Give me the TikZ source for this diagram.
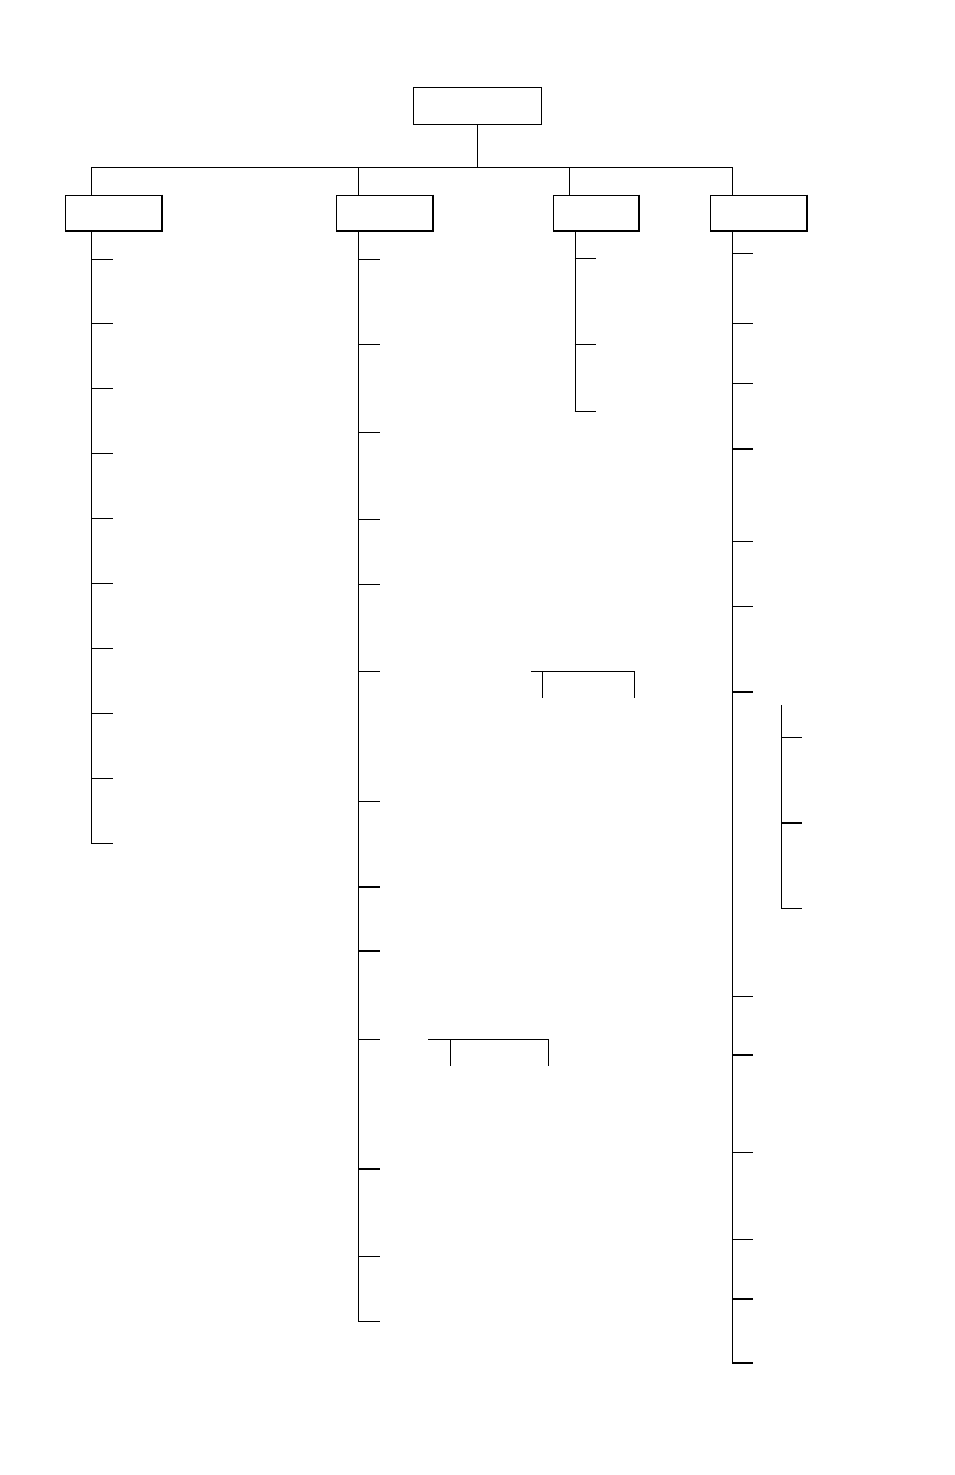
\documentclass[tikz,border=0pt]{standalone}
\begin{document}
\begin{tikzpicture}[x=1pt,y=-1pt,line width=1pt,
  box/.style={draw,rectangle,inner sep=0pt,line width=1pt},
  thk/.style={line width=2pt},
  shade/.style={line width=1.6pt}]
\useasboundingbox (0,0) rectangle (954,1475);
% boxes
\node[box,minimum width=128pt,minimum height=37pt] (root) at (477,105.5) {};
\node[box,minimum width=96pt,minimum height=35pt] (b1) at (113,212.5) {};
\node[box,minimum width=96pt,minimum height=35pt] (b2) at (384,212.5) {};
\node[box,minimum width=85pt,minimum height=35pt] (b3) at (595.5,212.5) {};
\node[box,minimum width=96pt,minimum height=35pt] (b4) at (758,212.5) {};
\foreach \n in {b1,b2,b3,b4}
  \draw[shade] ([xshift=0.3pt]\n.north east) -- ([xshift=0.3pt,yshift=-0.3pt]\n.south east) -- ([yshift=-0.3pt]\n.south west);
% top connectors
\coordinate (barL) at (91,167);
\coordinate (barR) at (732,167);
\coordinate (c2) at (358,167);
\coordinate (c3) at (569,167);
\draw (root.south) -- (root.south |- barL);
\draw (barL) -- (barR);
\draw (barL) -- (barL |- b1.north);
\draw (c2) -- (c2 |- b2.north);
\draw (c3) -- (c3 |- b3.north);
\draw (barR) -- (barR |- b4.north);
% column 1
\coordinate (e1) at (91,843);
\draw (barL |- b1.south) -- (e1);
\foreach \y in {259,323,388,453,518,583,648,713,778,843}
  \draw (91,\y) -- (113,\y);
% column 2
\coordinate (e2) at (358,1321);
\draw (c2 |- b2.south) -- (e2);
\foreach \y in {259,344,432,519,584,671,801,1039,1256,1321}
  \draw (358,\y) -- (380,\y);
\foreach \y in {887,951,1169}
  \draw[thk] (358,\y) -- (380,\y);
% bracket 1
\coordinate (k1a) at (531,671.5);
\coordinate (k1b) at (634.5,671.5);
\draw (k1a) -- (k1b) -- ++(0,26);
\draw (542,671.5) -- (542,697.5);
% bracket 2
\coordinate (k2a) at (428,1039.5);
\coordinate (k2b) at (548.5,1039.5);
\draw (k2a) -- (k2b) -- ++(0,26.5);
\draw (450,1039.5) -- (450,1066);
% column 3
\coordinate (s3) at (575,231);
\draw (s3 |- b3.south) -- (575,411);
\foreach \y in {258,344,411}
  \draw (574.5,\y) -- (596,\y);
% column 4
\draw (barR |- b4.south) -- (732,1363);
\foreach \y in {253,323,383,541,606,996,1152,1239}
  \draw (732,\y) -- (753,\y);
\foreach \y in {449,692,1055,1299,1363}
  \draw[thk] (732,\y) -- (753,\y);
% sub-column
\coordinate (sub) at (781,705);
\draw (sub) -- (781,908);
\draw (781,737) -- (802,737);
\draw[thk] (781,822.5) -- (802,822.5);
\draw (781,908) -- (802,908);
\end{tikzpicture}
\end{document}
